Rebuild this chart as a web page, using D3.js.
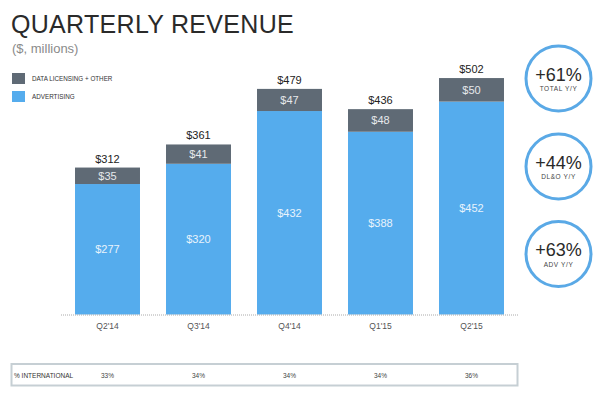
<!DOCTYPE html>
<html><head><meta charset="utf-8">
<script src="https://cdn.jsdelivr.net/npm/d3@7"></script>
<style>body{margin:0;background:#fff}svg{display:block}</style>
</head><body>
<svg id="c" width="600" height="393"></svg>
<script>
const quarters = ["Q2'14","Q3'14","Q4'14","Q1'15","Q2'15"];
const advertising = [277,320,432,388,452];
const dataLicensing = [35,41,47,48,50];
const totals = [312,361,479,436,502];
const international = ["33%","34%","34%","34%","36%"];
const growthValues = ["+61%","+44%","+63%"];
const growthLabels = ["TOTAL Y/Y","DL&O Y/Y","ADV Y/Y"];
const legendLabels = ["DATA LICENSING + OTHER","ADVERTISING"];

const blue = "#55aced", dark = "#5f6a75";
const font = "Liberation Sans, Arial, sans-serif";
const svg = d3.select("#c").style("font-family", font);

// Title
svg.append("text").attr("x",11).attr("y",33).attr("font-size",25)
  .attr("letter-spacing",0.3).attr("fill","#2a2a2a").text("QUARTERLY REVENUE");
svg.append("text").attr("x",12).attr("y",53).attr("font-size",13)
  .attr("fill","#8a8a8a").text("($, millions)");

// Legend
const legColors = [dark, blue];
legendLabels.forEach((l,i)=>{
  svg.append("rect").attr("x",12).attr("y",73+i*18).attr("width",13).attr("height",11).attr("fill",legColors[i]);
  svg.append("text").attr("x",32).attr("y",81+i*18).attr("font-size",6.3).attr("fill","#333").text(l);
});

const x = d3.scaleBand().domain(quarters).range([62,517]).paddingInner(0.286).paddingOuter(0.143);
const y = d3.scaleLinear().domain([0,600]).range([314.5, 314.5-282.6]);

const g = svg.append("g");
const stack = quarters.map((q,i)=>({q, adv:advertising[i], dl:dataLicensing[i], tot:totals[i]}));

// baseline dotted
svg.append("line").attr("x1",61).attr("x2",518).attr("y1",y(0)+0.5).attr("y2",y(0)+0.5)
  .attr("stroke","#aaa").attr("stroke-width",1).attr("stroke-dasharray","1,1");

g.selectAll(".adv").data(stack).join("rect")
  .attr("x",d=>x(d.q)).attr("width",x.bandwidth())
  .attr("y",d=>y(d.adv)).attr("height",d=>y(0)-y(d.adv)).attr("fill",blue);
g.selectAll(".dl").data(stack).join("rect").attr("class","dl")
  .attr("x",d=>x(d.q)).attr("width",x.bandwidth())
  .attr("y",d=>y(d.adv+d.dl)).attr("height",d=>y(d.adv)-y(d.adv+d.dl)).attr("fill",dark);

const cx = d=>x(d.q)+x.bandwidth()/2;
g.selectAll(".advl").data(stack).join("text")
  .attr("x",cx).attr("y",d=>(y(d.adv)+y(0))/2+4).attr("text-anchor","middle")
  .attr("font-size",11).attr("fill","#e8f3fc").text(d=>"$"+d.adv);
g.selectAll(".dll").data(stack).join("text")
  .attr("x",cx).attr("y",d=>(y(d.adv)+y(d.adv+d.dl))/2+4).attr("text-anchor","middle")
  .attr("font-size",11).attr("fill","#e6e9ec").text(d=>"$"+d.dl);
g.selectAll(".tl").data(stack).join("text")
  .attr("x",cx).attr("y",d=>y(d.tot)-5).attr("text-anchor","middle")
  .attr("font-size",11).attr("fill","#222").text(d=>"$"+d.tot);

// x axis labels
const ax = svg.append("g").attr("transform",`translate(0,${y(0)})`)
  .call(d3.axisBottom(x).tickSize(0).tickPadding(8));
ax.select(".domain").remove();
ax.selectAll("text").attr("font-size",8.5).attr("fill","#555").attr("font-family",font);

// Circles
const circY = [78.5,166.5,254];
growthValues.forEach((v,i)=>{
  svg.append("circle").attr("cx",558.5).attr("cy",circY[i]).attr("r",32.5)
    .attr("fill","#fff").attr("stroke","#5aa9e6").attr("stroke-width",3);
  svg.append("text").attr("x",558.5).attr("y",circY[i]+2).attr("text-anchor","middle")
    .attr("font-size",18).attr("fill","#2a2a2a").text(v);
  svg.append("text").attr("x",558.5).attr("y",circY[i]+12.5).attr("text-anchor","middle")
    .attr("font-size",6.5).attr("letter-spacing",0.6).attr("fill","#444").text(growthLabels[i]);
});

// International table
svg.append("rect").attr("x",11.5).attr("y",364).attr("width",506).attr("height",21.5)
  .attr("fill","#fff").attr("stroke","#c6cfd4").attr("stroke-width",2);
svg.append("text").attr("x",14).attr("y",377.5).attr("font-size",6.5).attr("fill","#333").text("% INTERNATIONAL");
svg.selectAll(".intl").data(stack).join("text")
  .attr("x",cx).attr("y",377.5).attr("text-anchor","middle")
  .attr("font-size",6.5).attr("fill","#444").text((d,i)=>international[i]);
</script>
</body></html>
